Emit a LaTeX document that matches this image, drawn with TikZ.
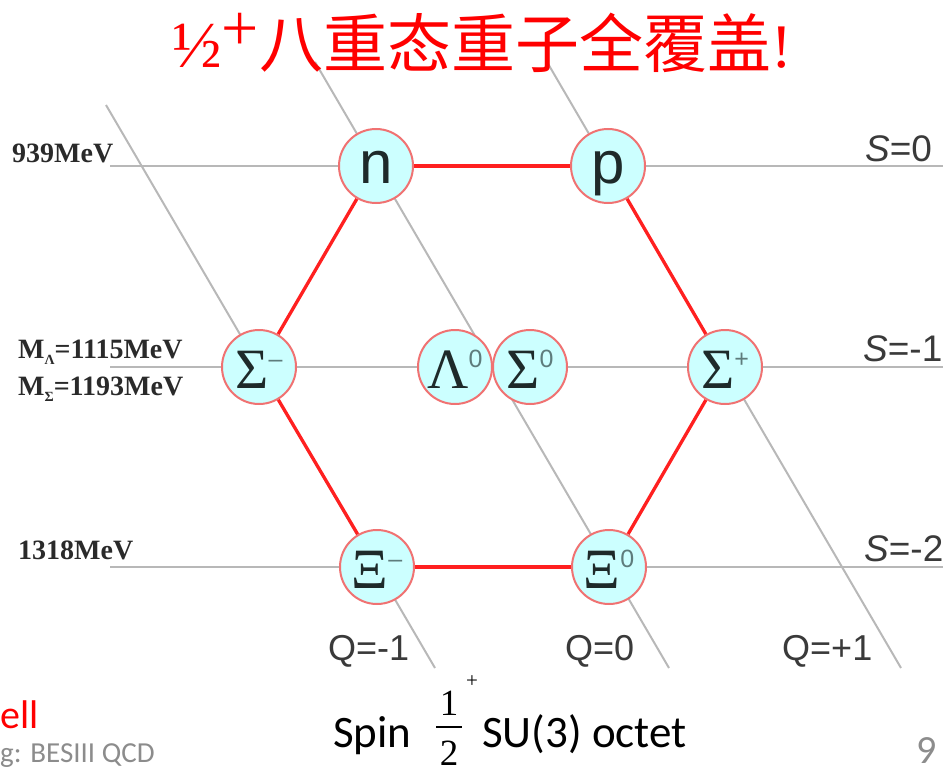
\documentclass[tikz,border=0pt]{standalone}
\usepackage{fontspec}
\setmainfont{Liberation Serif}
\newfontfamily\cjk{Noto Sans CJK SC}
\newfontfamily\arl{Liberation Sans}
\newfontfamily\tnr{Liberation Serif}
\newfontfamily\calfont{Carlito}
\usetikzlibrary{backgrounds}
\definecolor{ballfill}{HTML}{CCFFFF}
\definecolor{ballline}{HTML}{F07272}
\definecolor{balltext}{HTML}{1E2A2A}
\definecolor{supcol}{HTML}{5E7C7C}
\definecolor{redline}{HTML}{FF2020}
\definecolor{grayline}{HTML}{B8B8B8}
\definecolor{labtext}{HTML}{3A3A3A}
\definecolor{masstext}{HTML}{2A2A2A}
\definecolor{foot}{HTML}{8C8C8C}
\newcommand\bsup[1]{\raisebox{21pt}{\arl\fontsize{25}{25}\selectfont\color{supcol}#1}}
\begin{document}
\begin{tikzpicture}[x=1pt,y=-1pt,
  ball/.style={circle, draw=ballline, line width=2pt, fill=ballfill, minimum size=74pt, inner sep=0pt, text=balltext},
  latin/.style={ball, font=\arl\fontsize{60}{60}\selectfont, text height=34pt, text depth=0pt},
  greek/.style={ball, font=\tnr\fontsize{57}{57}\selectfont, text height=42pt, text depth=0pt},
  hline/.style={draw=grayline, line width=2.6pt},
  qline/.style={draw=grayline, line width=2pt},
  hexline/.style={draw=redline, line width=3.3pt},
  mass/.style={anchor=base west, inner sep=0pt, text=masstext, font=\tnr\bfseries\fontsize{28}{28}\selectfont},
  slab/.style={anchor=base west, inner sep=0pt, text=labtext, font=\arl\fontsize{37}{37}\selectfont},
  qlab/.style={anchor=base west, inner sep=0pt, text=labtext, font=\arl\fontsize{36}{36}\selectfont},
  txt/.style={anchor=base west, inner sep=0pt}
]
\useasboundingbox (0,0) rectangle (945,773);

% title
\node[txt, anchor=base, text=red] (title) at (482,68)
  {{\tnr\fontsize{66}{66}\selectfont ½\raisebox{17pt}{+}}{\cjk\fontsize{64}{64}\selectfont 八重态重子全覆盖}{\tnr\fontsize{62}{62}\selectfont !}};

% baryons
\node[latin] (n) at (376,166) {n};
\node[latin] (p) at (608,166) {p};
\node[greek] (Sm) at (259,367) {Σ\bsup{–}};
\node[greek] (L0) at (455,367) {Λ\bsup{0}};
\node[greek] (S0) at (530,367) {Σ\bsup{0}};
\node[greek] (Sp) at (725,367) {Σ\bsup{+}};
\node[greek] (Xm) at (377,567) {Ξ\bsup{–}};
\node[greek] (X0) at (609,567) {Ξ\bsup{0}};

% line ends
\coordinate (s0l) at (110,166); \coordinate (s0r) at (943,166);
\coordinate (s1l) at (110,367); \coordinate (s1r) at (943,367);
\coordinate (s2l) at (110,567); \coordinate (s2r) at (943,567);
\coordinate (qmt) at (106,105); \coordinate (qmb) at (435,668);
\coordinate (qzt) at (315,62);  \coordinate (qzb) at (669,668);
\coordinate (qpt) at (547,62);  \coordinate (qpb) at (901,668);

\begin{scope}[on background layer]
  \draw[hline] (s0l) -- (s0r);
  \draw[hline] (s1l) -- (s1r);
  \draw[hline] (s2l) -- (s2r);
  \draw[qline] (qmt) -- (qmb);
  \draw[qline] (qzt) -- (qzb);
  \draw[qline] (qpt) -- (qpb);
  \draw[hexline] (n) -- (p);
  \draw[hexline] (p) -- (Sp);
  \draw[hexline] (Sp) -- (X0);
  \draw[hexline] (X0) -- (Xm);
  \draw[hexline] (Xm) -- (Sm);
  \draw[hexline] (Sm) -- (n);
\end{scope}

% mass labels
\node[mass] (m939) at (12,163) {939MeV};
\node[mass] (mL) at (18,358) {M\raisebox{-6pt}{\fontsize{14}{14}\selectfont Λ}=1115MeV};
\node[mass] (mS) at (18,395) {M\raisebox{-6pt}{\fontsize{14}{14}\selectfont Σ}=1193MeV};
\node[mass] (m1318) at (18,559) {1318MeV};

% strangeness labels
\node[slab] (S0lab) at (865,161) {\itshape S\upshape=0};
\node[slab] (S1lab) at (863,361) {\itshape S\upshape=-1};
\node[slab] (S2lab) at (864,561) {\itshape S\upshape=-2};

% charge labels
\node[qlab] (Qm) at (328,660) {Q=-1};
\node[qlab] (Qz) at (565,660) {Q=0};
\node[qlab] (Qp) at (782,660) {Q=+1};

% caption
\node[txt, font=\calfont\fontsize{45}{45}\selectfont] (spin) at (333,747) {Spin};
\node[inner sep=0pt, font=\tnr\fontsize{37}{37}\selectfont] (one) at (449,703) {1};
\node[inner sep=0pt] (bar) at (449,727) {\rule{26pt}{1.8pt}};
\node[inner sep=0pt, font=\tnr\fontsize{37}{37}\selectfont] (two) at (449,753) {2};
\node[inner sep=0pt, font=\tnr\fontsize{21}{21}\selectfont] (plus) at (472,682) {+};
\node[txt, font=\calfont\fontsize{45}{45}\selectfont] (su3) at (482,747) {SU(3) octet};

% footer fragments
\node[txt, text=red, font=\calfont\fontsize{40}{40}\selectfont] (ell) at (0,728) {ell};
\node[txt, text=foot, font=\calfont\fontsize{29}{29}\selectfont] (sub) at (0,762) {g: BESIII QCD};
\node[txt, text=foot, font=\calfont\fontsize{40}{40}\selectfont] (pg) at (916,763) {9};
\end{tikzpicture}
\end{document}
